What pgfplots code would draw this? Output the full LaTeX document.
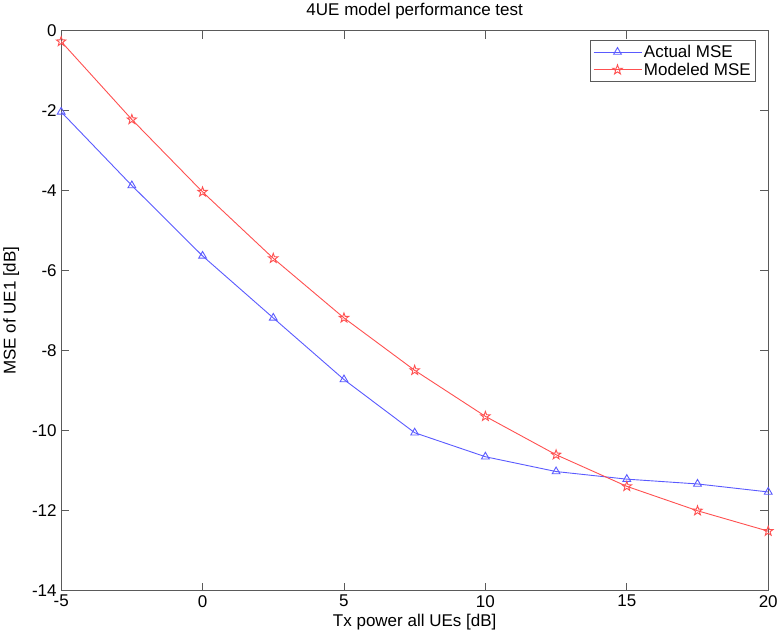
\documentclass[border=0pt]{standalone}
\usepackage{fontspec}
\setmainfont{Liberation Sans}
\usepackage{pgfplots}
\pgfplotsset{compat=1.18}

\definecolor{mblue}{RGB}{90,90,255}
\definecolor{mred}{RGB}{255,80,80}
\definecolor{axgray}{RGB}{90,90,90}

\pgfdeclareplotmark{pentagram}{%
  \pgfpathmoveto{\pgfpointpolar{90}{\pgfplotmarksize}}%
  \pgfpathlineto{\pgfpointpolar{126}{0.40\pgfplotmarksize}}%
  \pgfpathlineto{\pgfpointpolar{162}{\pgfplotmarksize}}%
  \pgfpathlineto{\pgfpointpolar{198}{0.40\pgfplotmarksize}}%
  \pgfpathlineto{\pgfpointpolar{234}{\pgfplotmarksize}}%
  \pgfpathlineto{\pgfpointpolar{270}{0.40\pgfplotmarksize}}%
  \pgfpathlineto{\pgfpointpolar{306}{\pgfplotmarksize}}%
  \pgfpathlineto{\pgfpointpolar{342}{0.40\pgfplotmarksize}}%
  \pgfpathlineto{\pgfpointpolar{18}{\pgfplotmarksize}}%
  \pgfpathlineto{\pgfpointpolar{54}{0.40\pgfplotmarksize}}%
  \pgfpathclose
  \pgfusepathqstroke
}

\begin{document}
\begin{tikzpicture}
\begin{axis}[
  scale only axis,
  width=707pt, height=560pt,
  xmin=-5, xmax=20, ymin=-14, ymax=0,
  xtick={-5,0,...,20}, ytick={-14,-12,...,0},
  tick align=inside, major tick length=8pt,
  axis line style={axgray, line width=0.9pt},
  every tick/.style={axgray, line width=0.9pt},
  tick label style={font=\fontsize{17}{19}\selectfont},
  /pgf/number format/assume math mode=true,
  title={4UE model performance test},
  title style={font=\fontsize{17}{19}\selectfont, yshift=2pt},
  xlabel={Tx power all UEs [dB]},
  ylabel={MSE of UE1 [dB]},
  label style={font=\fontsize{17}{19}\selectfont},
  xlabel style={yshift=0pt},
  ylabel style={yshift=6pt},
  xticklabel style={yshift=-1pt},
  yticklabel style={xshift=-1pt},
  legend cell align=left,
  legend style={at={(0.983,0.984)}, anchor=north east, draw=axgray,
    line width=0.9pt, font=\fontsize{17}{19}\selectfont, inner sep=3pt,
    row sep=0pt},
  legend image code/.code={%
    \draw[mark repeat=2, mark phase=2, #1] plot coordinates {(0pt,0pt) (24pt,0pt) (48pt,0pt)};},
]
\addplot[color=mblue, line width=0.9pt, mark=triangle, mark size=4.5pt, mark options={solid, line width=0.9pt}]
  coordinates {(-5,-2.03) (-2.5,-3.87) (0,-5.63) (2.5,-7.18) (5,-8.72) (7.5,-10.05) (10,-10.65) (12.5,-11.02) (15,-11.21) (17.5,-11.33) (20,-11.53)};
\addlegendentry{Actual MSE}
\addplot[color=mred, line width=0.9pt, mark=pentagram, mark size=5pt, mark options={solid, line width=0.9pt}]
  coordinates {(-5,-0.27) (-2.5,-2.22) (0,-4.03) (2.5,-5.69) (5,-7.18) (7.5,-8.49) (10,-9.64) (12.5,-10.6) (15,-11.39) (17.5,-12.0) (20,-12.51)};
\addlegendentry{Modeled MSE}
\end{axis}
\end{tikzpicture}
\end{document}
